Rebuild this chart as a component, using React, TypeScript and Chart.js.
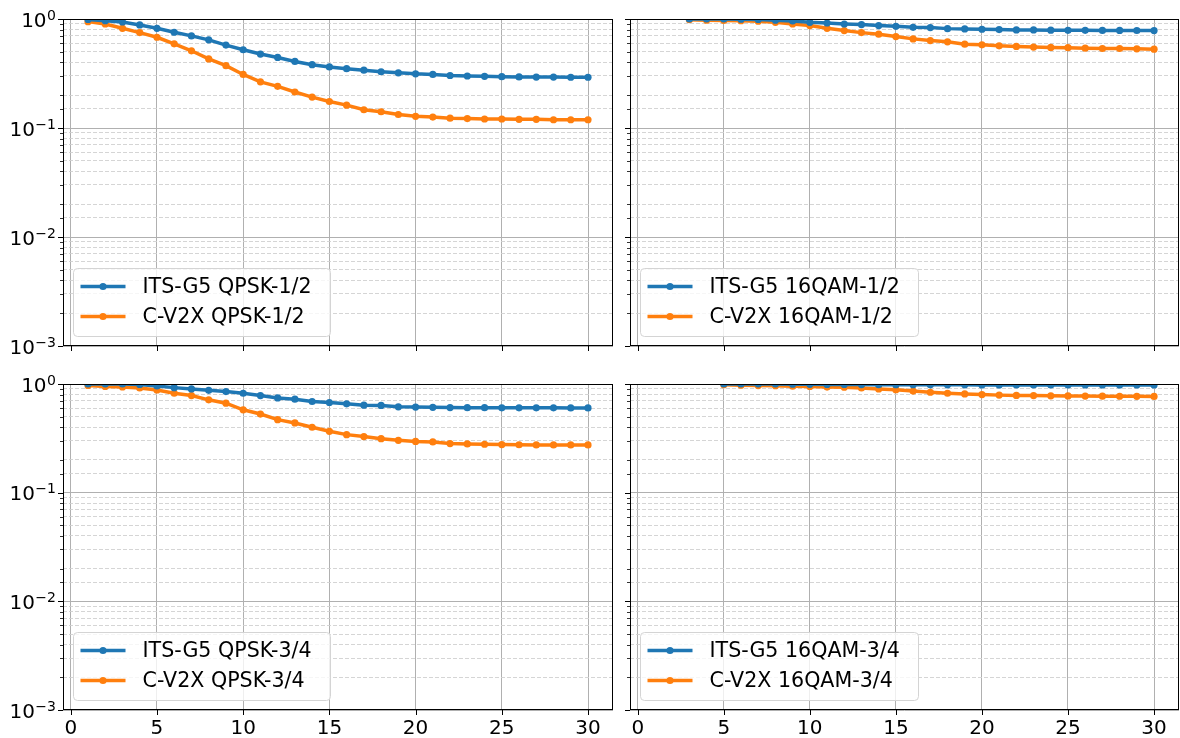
import React, { useEffect, useRef } from 'react';
import { Chart, registerables } from 'chart.js';

Chart.register(...registerables);

// ---------------- data ----------------
const X_QPSK = [1, 2, 3, 4, 5, 6, 7, 8, 9, 10, 11, 12, 13, 14, 15, 16, 17, 18, 19, 20, 21, 22, 23, 24, 25, 26, 27, 28, 29, 30];
const X_16QAM_12 = [3, 4, 5, 6, 7, 8, 9, 10, 11, 12, 13, 14, 15, 16, 17, 18, 19, 20, 21, 22, 23, 24, 25, 26, 27, 28, 29, 30];
const X_16QAM_34 = [5, 6, 7, 8, 9, 10, 11, 12, 13, 14, 15, 16, 17, 18, 19, 20, 21, 22, 23, 24, 25, 26, 27, 28, 29, 30];

const ITS_QPSK_12 = [0.99, 0.965, 0.939, 0.882, 0.822, 0.756, 0.7, 0.644, 0.576, 0.522, 0.477, 0.444, 0.408, 0.381, 0.363, 0.35, 0.339, 0.328, 0.321, 0.314, 0.31, 0.303, 0.3, 0.298, 0.296, 0.294, 0.293, 0.293, 0.292, 0.292];
const CV2X_QPSK_12 = [0.946, 0.9, 0.822, 0.75, 0.68, 0.592, 0.511, 0.43, 0.373, 0.31, 0.265, 0.241, 0.214, 0.192, 0.175, 0.162, 0.147, 0.141, 0.133, 0.128, 0.126, 0.123, 0.122, 0.121, 0.121, 0.12, 0.12, 0.119, 0.119, 0.119];

const ITS_16QAM_12 = [1.0, 1.0, 1.0, 0.995, 0.99, 0.975, 0.959, 0.932, 0.919, 0.9, 0.888, 0.87, 0.857, 0.839, 0.834, 0.816, 0.811, 0.805, 0.8, 0.794, 0.794, 0.79, 0.788, 0.788, 0.786, 0.785, 0.784, 0.783];
const CV2X_16QAM_12 = [0.985, 0.975, 0.97, 0.965, 0.955, 0.932, 0.9, 0.87, 0.822, 0.783, 0.75, 0.725, 0.69, 0.657, 0.634, 0.617, 0.588, 0.579, 0.567, 0.56, 0.553, 0.549, 0.546, 0.54, 0.536, 0.536, 0.533, 0.529];

const ITS_QPSK_34 = [1.0, 1.0, 1.0, 0.99, 0.96, 0.926, 0.9, 0.875, 0.851, 0.822, 0.783, 0.745, 0.725, 0.69, 0.676, 0.657, 0.639, 0.635, 0.617, 0.613, 0.61, 0.607, 0.606, 0.605, 0.604, 0.604, 0.603, 0.603, 0.602, 0.602];
const CV2X_QPSK_34 = [0.97, 0.95, 0.94, 0.92, 0.882, 0.822, 0.783, 0.715, 0.666, 0.579, 0.529, 0.47, 0.438, 0.4, 0.367, 0.342, 0.328, 0.314, 0.303, 0.296, 0.293, 0.283, 0.281, 0.279, 0.277, 0.276, 0.275, 0.275, 0.275, 0.275];

const ITS_16QAM_34 = [1.0, 1.0, 1.0, 1.0, 0.995, 0.993, 0.99, 0.99, 0.988, 0.986, 0.985, 0.984, 0.983, 0.982, 0.982, 0.981, 0.981, 0.98, 0.98, 0.98, 0.98, 0.979, 0.979, 0.979, 0.979, 0.979];
const CV2X_16QAM_34 = [0.985, 0.975, 0.968, 0.965, 0.955, 0.95, 0.937, 0.935, 0.92, 0.9, 0.887, 0.86, 0.84, 0.822, 0.81, 0.8, 0.79, 0.785, 0.783, 0.778, 0.776, 0.775, 0.772, 0.771, 0.77, 0.769];

const LABELS_QPSK_12 = ['ITS-G5 QPSK-1/2', 'C-V2X QPSK-1/2'];
const LABELS_16QAM_12 = ['ITS-G5 16QAM-1/2', 'C-V2X 16QAM-1/2'];
const LABELS_QPSK_34 = ['ITS-G5 QPSK-3/4', 'C-V2X QPSK-3/4'];
const LABELS_16QAM_34 = ['ITS-G5 16QAM-3/4', 'C-V2X 16QAM-3/4'];

const X_TICKS = [0, 5, 10, 15, 20, 25, 30];
const Y_MAJOR = [0.001, 0.01, 0.1, 1];
const Y_TICK_BASE = '10';
const Y_TICK_EXP = ['\u22123', '\u22122', '\u22121', '0'];

// ---------------- style ----------------
const FONT = '"DejaVu Sans", sans-serif';
const BLUE = '#1f77b4';
const ORANGE = '#ff7f0e';
const X_MIN = -0.45;
const X_MAX = 31.45;

function isMajor(v: number) {
  const l = Math.log10(v);
  return Math.abs(l - Math.round(l)) < 1e-6;
}

function majorIndex(v: number) {
  return Y_MAJOR.findIndex((m) => Math.abs(m - v) / m < 1e-6);
}

const framePlugin = {
  id: 'mplFrame',
  afterDatasetsDraw(chart: any, _args: any, opts: any) {
    const { ctx, chartArea: a, scales } = chart;
    const xs = scales.x;
    const ys = scales.y;
    ctx.save();
    ctx.strokeStyle = '#000';
    const line = (x1: number, y1: number, x2: number, y2: number) => {
      ctx.beginPath();
      ctx.moveTo(x1, y1);
      ctx.lineTo(x2, y2);
      ctx.stroke();
    };
    ctx.lineWidth = 1;
    for (const t of xs.ticks) {
      const px = Math.round(xs.getPixelForValue(t.value)) + 0.5;
      line(px, a.bottom, px, a.bottom + 5);
    }
    for (const t of ys.ticks) {
      const major = isMajor(t.value);
      const py = Math.round(ys.getPixelForValue(t.value)) + 0.5;
      ctx.lineWidth = major ? 1 : 0.8;
      line(a.left - (major ? 5 : 3), py, a.left, py);
    }
    ctx.lineWidth = 1;
    ctx.strokeRect(
      Math.round(a.left) + 0.5,
      Math.round(a.top) + 0.5,
      Math.round(a.right - a.left) - 1,
      Math.round(a.bottom - a.top) - 1
    );
    // y tick labels in mathtext style: 10 with a raised exponent
    if (opts && opts.showY) {
      ctx.fillStyle = '#000';
      ctx.textBaseline = 'alphabetic';
      ctx.textAlign = 'right';
      for (const t of ys.ticks) {
        const i = majorIndex(t.value);
        if (i < 0) continue;
        const py = ys.getPixelForValue(t.value);
        const xr = a.left - 7;
        ctx.font = `14px ${FONT}`;
        const ew = ctx.measureText(Y_TICK_EXP[i]).width;
        ctx.fillText(Y_TICK_EXP[i], xr, py + 0.5);
        ctx.font = `20px ${FONT}`;
        ctx.fillText(Y_TICK_BASE, xr - ew - 0.5, py + 7.5);
      }
    }
    ctx.restore();
  },
};

const legendPlugin = {
  id: 'mplLegend',
  afterDraw(chart: any) {
    const { ctx, chartArea: a } = chart;
    const ds = chart.data.datasets;
    ctx.save();
    ctx.font = `20.6px ${FONT}`;
    const tw = Math.max(...ds.map((d: any) => ctx.measureText(d.label).width));
    const h = 68;
    const x0 = Math.round(a.left + 10) + 0.5;
    const y0 = Math.round(a.bottom - 10 - h) + 0.5;
    const w = Math.round(69 + tw + 19);
    const r = 4;
    ctx.beginPath();
    ctx.moveTo(x0 + r, y0);
    ctx.lineTo(x0 + w - r, y0);
    ctx.arcTo(x0 + w, y0, x0 + w, y0 + r, r);
    ctx.lineTo(x0 + w, y0 + h - r);
    ctx.arcTo(x0 + w, y0 + h, x0 + w - r, y0 + h, r);
    ctx.lineTo(x0 + r, y0 + h);
    ctx.arcTo(x0, y0 + h, x0, y0 + h - r, r);
    ctx.lineTo(x0, y0 + r);
    ctx.arcTo(x0, y0, x0 + r, y0, r);
    ctx.closePath();
    ctx.fillStyle = 'rgba(255,255,255,0.8)';
    ctx.fill();
    ctx.strokeStyle = '#d4d4d4';
    ctx.lineWidth = 1;
    ctx.stroke();
    ds.forEach((d: any, i: number) => {
      const y = y0 + 18 + 30 * i;
      ctx.strokeStyle = d.borderColor;
      ctx.lineWidth = 3.5;
      ctx.beginPath();
      ctx.moveTo(x0 + 7, y);
      ctx.lineTo(x0 + 52, y);
      ctx.stroke();
      ctx.fillStyle = d.borderColor;
      ctx.beginPath();
      ctx.arc(x0 + 29.5, y, 3.6, 0, Math.PI * 2);
      ctx.fill();
      ctx.fillStyle = '#000';
      ctx.textBaseline = 'middle';
      ctx.textAlign = 'left';
      ctx.fillText(d.label, x0 + 69, y + 1);
    });
    ctx.restore();
  },
};

type PanelProps = {
  left: number;
  top: number;
  width: number;
  height: number;
  padTop: number;
  padRight: number;
  yWidth: number;
  xHeight: number;
  showX: boolean;
  showY: boolean;
  xs: number[];
  its: number[];
  cv: number[];
  labels: string[];
};

function Panel(p: PanelProps) {
  const ref = useRef<HTMLCanvasElement | null>(null);
  useEffect(() => {
    if (!ref.current) return;
    const mk = (vals: number[], label: string, color: string) => ({
      label,
      data: p.xs.map((x, i) => ({ x, y: vals[i] })),
      borderColor: color,
      backgroundColor: color,
      pointBackgroundColor: color,
      pointBorderColor: color,
      borderWidth: 3.5,
      pointRadius: 3.6,
      pointBorderWidth: 0,
      tension: 0,
      clip: 0,
    });
    const chart = new Chart(ref.current, {
      type: 'line',
      data: {
        datasets: [mk(p.its, p.labels[0], BLUE), mk(p.cv, p.labels[1], ORANGE)],
      },
      options: {
        responsive: false,
        maintainAspectRatio: false,
        animation: false,
        events: [],
        layout: {
          autoPadding: false,
          padding: { top: p.padTop, right: p.padRight, left: 0, bottom: 0 },
        },
        plugins: {
          legend: { display: false },
          tooltip: { enabled: false },
          mplFrame: { showY: p.showY },
        },
        scales: {
          x: {
            type: 'linear',
            min: X_MIN,
            max: X_MAX,
            afterBuildTicks: (s: any) => {
              s.ticks = X_TICKS.map((v) => ({ value: v }));
            },
            afterFit: (s: any) => {
              s.height = p.xHeight;
            },
            grid: { color: '#b0b0b0', lineWidth: 1, drawTicks: false },
            border: { display: false },
            ticks: {
              autoSkip: false,
              maxRotation: 0,
              padding: 7,
              color: '#000',
              font: { family: FONT, size: 20 },
              callback: (v: any) => (p.showX ? String(v) : ''),
            },
          },
          y: {
            type: 'logarithmic',
            min: 0.001,
            max: 1,
            afterFit: (s: any) => {
              s.width = p.yWidth;
            },
            grid: {
              drawTicks: false,
              color: (c: any) => (c.tick && isMajor(c.tick.value) ? '#b0b0b0' : '#d0d0d0'),
              lineWidth: (c: any) => (c.tick && isMajor(c.tick.value) ? 1 : 0.9),
            },
            border: {
              display: false,
              dash: (c: any) => (c.tick && !isMajor(c.tick.value) ? [4, 2] : []),
            },
            ticks: {
              autoSkip: false,
              padding: 7,
              color: '#000',
              font: { family: FONT, size: 20 },
              callback: () => '',
            },
          },
        },
      } as any,
      plugins: [framePlugin, legendPlugin],
    });
    return () => chart.destroy();
  }, []);
  return (
    <canvas
      ref={ref}
      width={p.width}
      height={p.height}
      style={{ position: 'absolute', left: p.left, top: p.top, width: p.width, height: p.height }}
    />
  );
}

export default function App() {
  return (
    <div style={{ position: 'absolute', left: 0, top: 0, width: 1180, height: 738, background: '#fff', overflow: 'hidden' }}>
      <Panel left={0} top={0} width={620} height={365} padTop={19} padRight={7} yWidth={63} xHeight={17}
        showX={false} showY={true} xs={X_QPSK} its={ITS_QPSK_12} cv={CV2X_QPSK_12} labels={LABELS_QPSK_12} />
      <Panel left={617} top={0} width={563} height={365} padTop={19} padRight={1} yWidth={13} xHeight={17}
        showX={false} showY={false} xs={X_16QAM_12} its={ITS_16QAM_12} cv={CV2X_16QAM_12} labels={LABELS_16QAM_12} />
      <Panel left={0} top={365} width={620} height={373} padTop={17} padRight={7} yWidth={63} xHeight={28}
        showX={true} showY={true} xs={X_QPSK} its={ITS_QPSK_34} cv={CV2X_QPSK_34} labels={LABELS_QPSK_34} />
      <Panel left={617} top={365} width={563} height={373} padTop={17} padRight={1} yWidth={13} xHeight={28}
        showX={true} showY={false} xs={X_16QAM_34} its={ITS_16QAM_34} cv={CV2X_16QAM_34} labels={LABELS_16QAM_34} />
    </div>
  );
}
